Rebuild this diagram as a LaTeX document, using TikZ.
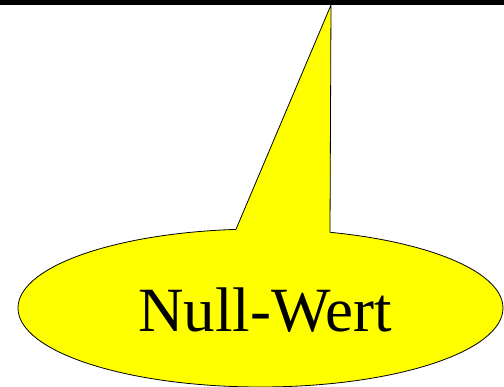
\documentclass[tikz,border=0pt]{standalone}
\usepackage{fontspec}
\setmainfont{Liberation Serif}
\usetikzlibrary{shapes.geometric}
\definecolor{callyellow}{RGB}{255,255,0}
\tikzset{
  bubblestyle/.style={shape=ellipse, draw=black, fill=callyellow, line width=0.8pt, inner sep=0pt},
  labelstyle/.style={inner sep=0pt, anchor=base, font=\fontsize{63}{72}\selectfont}
}
\begin{document}
\begin{tikzpicture}[x=1pt,y=-1pt]
\useasboundingbox (0,0) rectangle (504,387);
\fill[black] (0,0) rectangle (504,5.5);
\node[bubblestyle, minimum width=485pt, minimum height=158pt] (bubble) at (260.5,308) {};
\coordinate (pl) at (236,229.3);
\coordinate (tip) at (331,5);
\coordinate (pr) at (330,232.3);
\fill[callyellow] (pl) -- (tip) -- (pr) -- (330,245) -- (236,245) -- cycle;
\draw[line width=0.8pt, line join=miter] (pl) -- (tip) -- (pr);
\node[labelstyle] (label) at (265,332) {Null-Wert};
\end{tikzpicture}
\end{document}
